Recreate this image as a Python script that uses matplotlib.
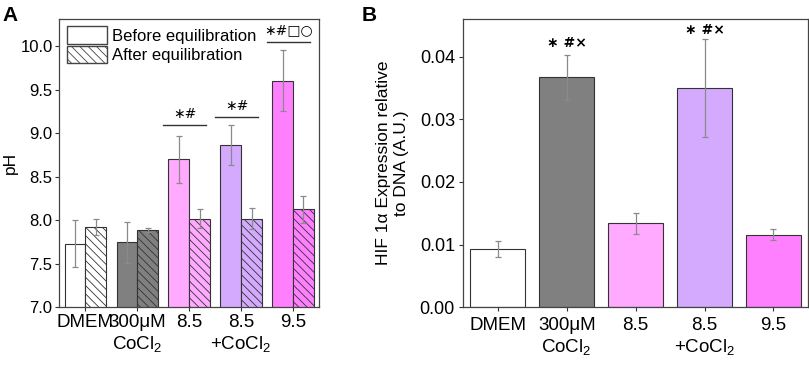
import numpy as np
import matplotlib.pyplot as plt
from matplotlib.patches import Patch

plt.rcParams['font.family'] = ['Liberation Sans', 'DejaVu Sans']
plt.rcParams['mathtext.fontset'] = 'custom'
plt.rcParams['mathtext.rm'] = 'Liberation Sans'
plt.rcParams['mathtext.it'] = 'Liberation Sans:italic'
plt.rcParams['hatch.color'] = '#444444'
plt.rcParams['hatch.linewidth'] = 0.6

# datos
grupos = ['DMEM', '300μM\nCoCl$_2$', '8.5', '8.5\n+CoCl$_2$', '9.5']
colores = ['#ffffff', '#808080', '#ffaaff', '#d4aaff', '#ff80ff']

ph_antes = [7.73, 7.745, 8.70, 8.86, 9.60]
ph_antes_err = [0.27, 0.235, 0.27, 0.23, 0.35]
ph_despues = [7.92, 7.885, 8.015, 8.015, 8.125]
ph_despues_err = [0.09, 0.025, 0.11, 0.12, 0.155]

sig_a = ['', '', '\u2217#', '\u2217#', '\u2217#\u25a1\u25cb']
sig_a_y = [0, 0, 9.09, 9.18, 10.05]

hif = [0.00925, 0.0367, 0.01337, 0.0350, 0.0116]
hif_err = [0.00125, 0.0036, 0.0017, 0.0078, 0.0009]
sig_b = ['', '\u2217 #\u00d7', '', '\u2217 #\u00d7', '']
sig_b_y = [0, 0.0421, 0, 0.0443, 0]

fig = plt.figure(figsize=(8.09, 3.68), dpi=100)
axA = fig.add_axes([0.0735, 0.165, 0.3208, 0.7835])
axB = fig.add_axes([0.5727, 0.165, 0.426, 0.7835])

x = np.arange(len(grupos))
w = 0.4
err_kw = dict(ecolor='#8a8a8a', elinewidth=0.9, capsize=2.5, capthick=0.9)

# Panel A
axA.bar(x - w/2, ph_antes, w, yerr=ph_antes_err, color=colores,
        edgecolor='#333333', linewidth=0.8, error_kw=err_kw, zorder=2)
axA.bar(x + w/2, ph_despues, w, yerr=ph_despues_err, color=colores,
        edgecolor='#333333', linewidth=0.8, hatch='\\\\\\\\', error_kw=err_kw, zorder=2)

for i in range(len(grupos)):
    if sig_a[i]:
        axA.plot([x[i] - 0.5, x[i] + 0.33], [sig_a_y[i], sig_a_y[i]], color='#333333', lw=1)
        axA.text(x[i] - 0.08, sig_a_y[i] + 0.13, sig_a[i], ha='center', va='center',
                 fontsize=10, family='DejaVu Sans')

axA.set_xlim(-0.5, 4.5)
axA.set_ylim(7.0, 10.31)
axA.set_yticks([7.0, 7.5, 8.0, 8.5, 9.0, 9.5, 10.0])
axA.set_yticklabels(['7.0', '7.5', '8.0', '8.5', '9.0', '9.5', '10.0'])
axA.set_xticks(x)
axA.set_xticklabels(grupos)
axA.set_ylabel('pH', fontsize=12.5, labelpad=2)

leyenda = [Patch(facecolor='white', edgecolor='#444444', label='Before equilibration'),
           Patch(facecolor='white', edgecolor='#444444', hatch='\\\\\\\\', label='After equilibration')]
axA.legend(handles=leyenda, loc='upper left', frameon=False, fontsize=12,
           handlelength=2.4, handleheight=1.25, handletextpad=0.3,
           labelspacing=0.1, borderaxespad=0.3, borderpad=0.15)

# Panel B
axB.bar(x, hif, 0.8, yerr=hif_err, color=colores, edgecolor='#333333',
        linewidth=0.8, error_kw=err_kw, zorder=2)
for i in range(len(grupos)):
    if sig_b[i]:
        axB.text(x[i], sig_b_y[i], sig_b[i], ha='center', va='center', fontsize=10,
                 fontweight='bold', family='DejaVu Sans')
axB.set_xlim(-0.5, 4.5)
axB.set_ylim(0, 0.046)
axB.set_yticks([0.0, 0.01, 0.02, 0.03, 0.04])
axB.set_yticklabels(['0.00', '0.01', '0.02', '0.03', '0.04'])
axB.set_xticks(x)
axB.set_xticklabels(grupos)
axB.set_ylabel('HIF 1α Expression relative\nto DNA (A.U.)', fontsize=12.5, labelpad=8)

for ax in (axA, axB):
    ax.tick_params(axis='both', labelsize=12, direction='out', length=3, width=0.8,
                   color='#333333', pad=2)
    for s in ax.spines.values():
        s.set_color('#444444')
        s.set_linewidth(0.9)
axA.tick_params(axis='x', labelsize=13.5)
axB.tick_params(axis='x', labelsize=13.5, pad=4)
axB.tick_params(axis='y', labelsize=13, pad=3)

fig.text(0.003, 0.985, 'A', fontsize=15, fontweight='bold', va='top', ha='left')
fig.text(0.447, 0.985, 'B', fontsize=15, fontweight='bold', va='top', ha='left')

fig.savefig('out.png', dpi=100)
